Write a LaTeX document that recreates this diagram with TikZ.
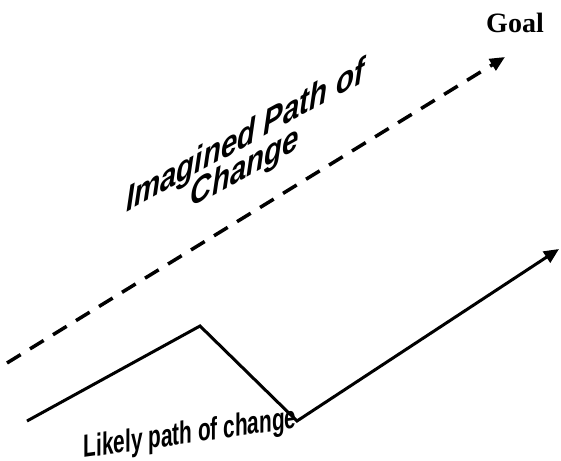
\documentclass[tikz,border=0pt]{standalone}
\usepackage{fontspec}
\setmainfont{Liberation Serif}
\newfontfamily\arialfont{Liberation Sans}
\newcommand\tightlines{\lineskiplimit -50pt\relax}
\usepackage{tikz}
\usetikzlibrary{arrows.meta,positioning}

\begin{document}
\begin{tikzpicture}[x=1pt,y=1pt,
  dasharr/.style={-{Triangle[length=15pt,width=13pt]},line width=3.5pt,dash pattern=on 16pt off 11pt},
  solidarr/.style={-{Triangle[length=15pt,width=13pt]},line width=3pt},
  goallabel/.style={font=\fontsize{28}{30}\selectfont\bfseries},
  pathlabel/.style={font=\arialfont\fontsize{36}{31}\selectfont\tightlines\bfseries\itshape,align=center,anchor=base},
  likelylabel/.style={font=\arialfont\fontsize{32}{32}\selectfont\bfseries,anchor=base}
]
\useasboundingbox (0,0) rectangle (561,460);

% Imagined path (dashed)
\coordinate (dstart) at (7,97);
\coordinate (goalpt) at (505,403);
\draw[dasharr] (dstart) -- (goalpt);
\node[goallabel,anchor=base] (goal) at (515,427) {Goal};
\node[pathlabel,yslant=0.55,xscale=0.82] (imagined) at (245,282) {Imagined Path of\\Change};

% Likely path (solid)
\coordinate (lstart) at (27,39);
\coordinate (lpeak) at (200,134);
\coordinate (lvalley) at (297,39);
\coordinate (lend) at (559,211);
\draw[solidarr,line join=miter] (lstart) -- (lpeak) -- (lvalley) -- (lend);
\node[likelylabel,yslant=0.14,xscale=0.65] (likely) at (190,17) {Likely path of change};

\end{tikzpicture}
\end{document}
